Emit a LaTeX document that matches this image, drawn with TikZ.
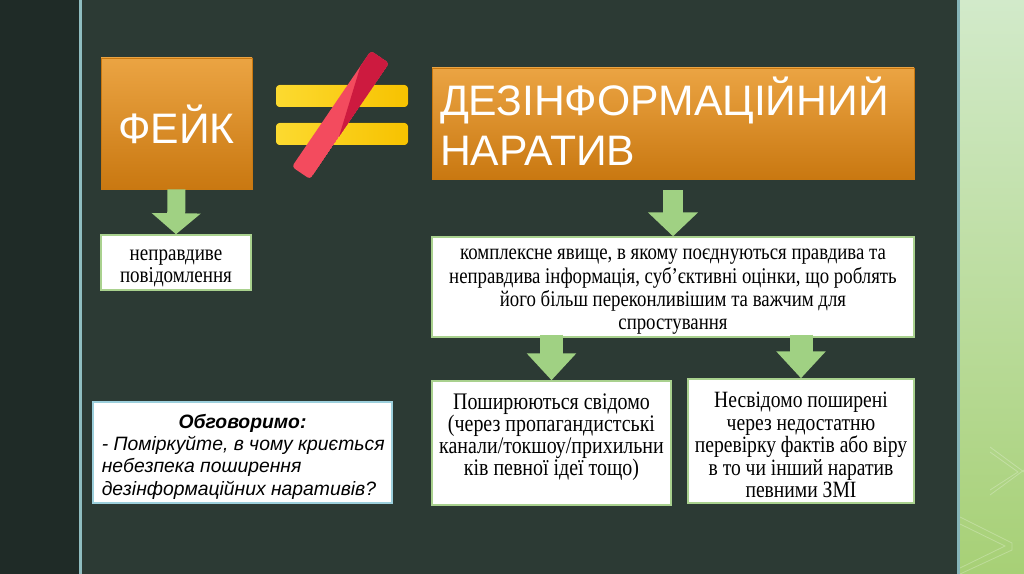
\documentclass[tikz,border=0pt]{standalone}
\usepackage{fontspec}
\setmainfont{Liberation Sans}
\newfontfamily\tnr[FakeStretch=0.84]{Liberation Serif}
\usetikzlibrary{arrows.meta,calc}

\definecolor{bgmain}{HTML}{2C3A34}
\definecolor{bgleft}{HTML}{1F2B27}
\definecolor{stripe}{HTML}{8FBDC0}
\definecolor{stripetwo}{HTML}{86B4B8}
\definecolor{orgtop}{HTML}{EBA443}
\definecolor{orgbot}{HTML}{C97811}
\definecolor{grn}{HTML}{A0D183}
\definecolor{boxedge}{HTML}{A9D18E}
\definecolor{ylwone}{HTML}{FCDA30}
\definecolor{ylwtwo}{HTML}{F7C200}
\definecolor{redone}{HTML}{F34B5E}
\definecolor{redtwo}{HTML}{CD1A3F}
\definecolor{pantop}{HTML}{D2EACA}
\definecolor{panbot}{HTML}{A7D076}
\definecolor{discedge}{HTML}{9CCFDC}

\begin{document}
\begin{tikzpicture}[x=0.75pt,y=0.75pt,
  orangebox/.style={rectangle, top color=orgtop, bottom color=orgbot, draw=orgbot, line width=0.6pt, inner sep=0pt},
  whitebox/.style={rectangle, fill=white, draw=boxedge, line width=1.1pt, inner sep=0pt},
  bigsans/.style={text=white, inner sep=0pt, font=\fontsize{32}{37.5}\selectfont},
  serifsmall/.style={text=black, inner sep=0pt, align=center},
  disctext/.style={text=black, inner sep=0pt, font=\itshape\fontsize{14.5}{16.9}\selectfont},
  fatarrow/.style={draw=grn, line width=#1},
  yellowbar/.style={left color=ylwone, right color=ylwtwo, rounded corners=2.5pt}
]
\useasboundingbox (0,0) rectangle (1024,-574);
% background
\fill[bgmain] (0,0) rectangle (1024,-574);
\fill[bgleft] (0,0) rectangle (79,-574);
\fill[stripe] (79,0) rectangle (82,-574);
\shade[top color=pantop, bottom color=panbot] (960,0) rectangle (1024,-574);
\fill[stripetwo] (957,0) rectangle (960,-574);
\draw[white, opacity=0.25, line width=0.6pt] (990,-447) -- (1024,-472) (990,-495) -- (1024,-470)
  (990,-452) -- (1018,-472) -- (990,-490);
\draw[white, opacity=0.25, line width=0.6pt] (960,-517) -- (1012,-543) -- (1012,-550) -- (960,-574)
  (960,-524) -- (1005,-546) -- (960,-568);

% boxes
\node[orangebox, minimum width=113.25pt, minimum height=98.25pt] (fake) at (176.5,-123.5) {};
\node[bigsans] (fakelbl) at (176.5,-124.5) {ФЕЙК};

\node[orangebox, minimum width=361.5pt, minimum height=83.25pt] (dis) at (673,-123.5) {};
\node[bigsans, text width=349.5pt, align=left] (dislbl) at (673,-121.5) {ДЕЗІНФОРМАЦІЙНИЙ\\НАРАТИВ};

\node[whitebox, minimum width=112.5pt, minimum height=41.25pt] (np) at (176,-262.5) {};
\node[serifsmall, font=\tnr\fontsize{17}{16.5}\selectfont] (nplbl) at (176,-268) {неправдиве\\повідомлення};

\node[whitebox, minimum width=361.5pt, minimum height=75pt] (comp) at (673,-287) {};
\node[serifsmall, font=\tnr\fontsize{16.8}{17.5}\selectfont] (complbl) at (673,-292)
  {комплексне явище, в якому поєднуються правдива та\\неправдива інформація, суб’єктивні оцінки, що роблять\\його більш переконливішим та важчим для\\спростування};

\node[whitebox, minimum width=179.25pt, minimum height=93pt] (bone) at (551.5,-443) {};
\node[serifsmall, font=\tnr\fontsize{17.8}{16.5}\selectfont] (bonelbl) at (551.5,-437)
  {Поширюються свідомо\\(через пропагандистські\\канали/токшоу/прихильни\\ків певної ідеї тощо)};

\node[whitebox, minimum width=169.5pt, minimum height=93pt] (btwo) at (801,-441) {};
\node[serifsmall, font=\tnr\fontsize{17.5}{16.9}\selectfont] (btwolbl) at (801,-445)
  {Несвідомо поширені\\через недостатню\\перевірку фактів або віру\\в то чи інший наратив\\певними ЗМІ};

\node[rectangle, fill=white, draw=discedge, line width=1.4pt, minimum width=224.25pt, minimum height=75.75pt] (disc) at (242.5,-452.5) {};
\node[disctext, font=\bfseries\itshape\fontsize{14.5}{16.9}\selectfont] (disctitle) at (242.5,-423) {Обговоримо:};
\node[disctext, align=left, anchor=west] (discbody) at (101.5,-467.5)
  {- Поміркуйте, в чому криється\\небезпека поширення\\дезінформаційних наративів?};

% not-equal sign
\fill[yellowbar] (276,-85) rectangle (408,-107);
\fill[yellowbar] (276,-123) rectangle (408,-145);
\begin{scope}
  \clip[rounded corners=2.5pt] (310.1,-179.2) -- (291.9,-166.8) -- (370.9,-50.8) -- (389.1,-63.2) -- cycle;
  \fill[redone] (310.1,-179.2) -- (291.9,-166.8) -- (370.9,-50.8) -- (389.1,-63.2) -- cycle;
  \fill[redtwo] (366,-48) -- (395,-63.2) -- (339,-136.7) -- cycle;
\end{scope}

% arrows
\draw[fatarrow=13.5pt, -{Triangle[width=36pt,length=15.75pt]}] (fake.south) -- (np.north);
\draw[fatarrow=15pt, -{Triangle[width=36.75pt,length=18pt]}] ([yshift=-8.25pt]dis.south) -- (comp.north);
\coordinate (cl) at ($(bone.north |- comp.south)+(0,3)$);
\coordinate (cr) at ($(btwo.north |- comp.south)+(0,3)$);
\draw[fatarrow=17.25pt, -{Triangle[width=36pt,length=20.25pt]}] (cl) -- (bone.north);
\draw[fatarrow=17.25pt, -{Triangle[width=36pt,length=20.25pt]}] (cr) -- (btwo.north);
\end{tikzpicture}
\end{document}
